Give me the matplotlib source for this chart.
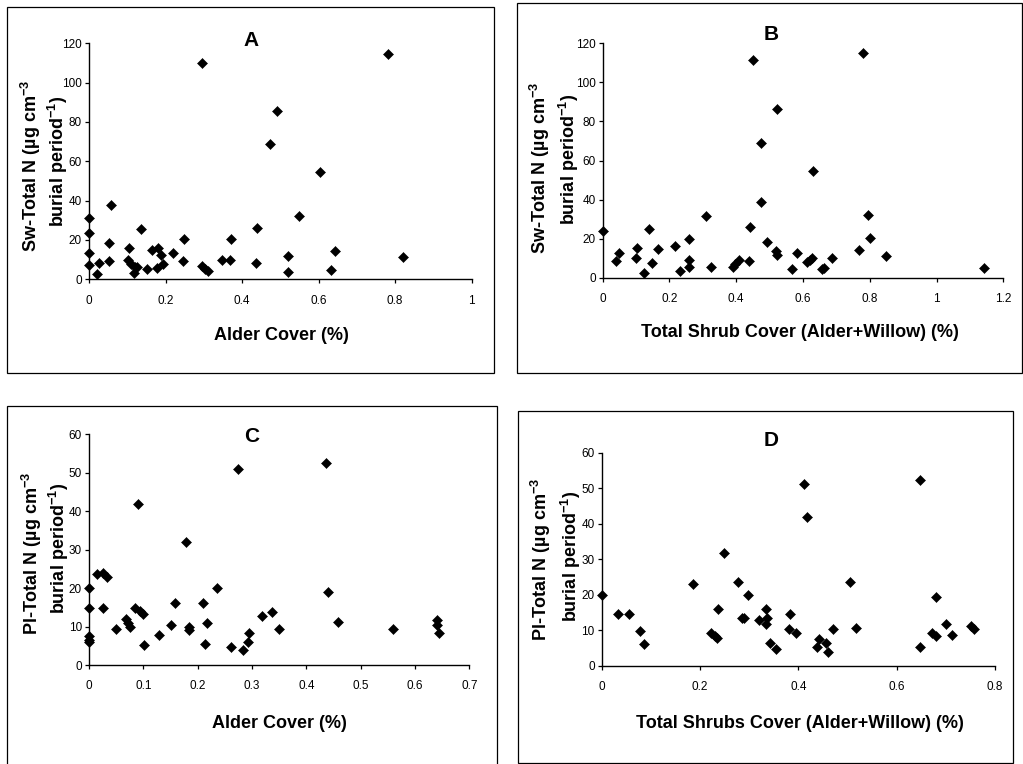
from matplotlib import pyplot as plt
from matplotlib.patches import Rectangle
import numpy as np

plt.rcParams['font.family'] = ['Liberation Sans', 'DejaVu Sans']
plt.rcParams['mathtext.fontset'] = 'custom'
plt.rcParams['mathtext.rm'] = 'Liberation Sans:bold'
plt.rcParams['mathtext.bf'] = 'Liberation Sans:bold'

W, H = 1023, 764

# Sw (white spruce) total N against alder cover
alder_a = [0, 0, 0, 0, 0.02, 0.026, 0.052, 0.052, 0.058, 0.105, 0.103, 0.111,
           0.12, 0.118, 0.126, 0.137, 0.151, 0.164, 0.179, 0.177, 0.188, 0.193,
           0.219, 0.248, 0.246, 0.296, 0.294, 0.303, 0.312, 0.347, 0.368, 0.371,
           0.436, 0.44, 0.473, 0.492, 0.521, 0.521, 0.549, 0.604, 0.632, 0.643,
           0.78, 0.82]
sw_n_a = [31.4, 23.4, 13.2, 7.1, 2.7, 8.3, 18.4, 9.2, 38.0, 15.8, 10.0, 7.8,
          6.4, 3.4, 6.0, 25.5, 5.1, 15.1, 15.9, 5.7, 12.4, 7.8,
          13.2, 20.3, 9.2, 110.2, 6.8, 5.1, 4.3, 9.8, 9.8, 20.3,
          8.5, 26.1, 68.6, 85.8, 11.9, 3.9, 32.1, 54.5, 4.7, 14.6,
          114.6, 11.5]

# Sw total N against total shrub cover
shrub_b = [0, 0.039, 0.05, 0.1, 0.104, 0.123, 0.138, 0.147, 0.165, 0.216,
           0.232, 0.258, 0.26, 0.26, 0.309, 0.325, 0.389, 0.397, 0.407, 0.439,
           0.441, 0.451, 0.473, 0.473, 0.493, 0.518, 0.521, 0.523, 0.567, 0.583,
           0.613, 0.62, 0.627, 0.629, 0.657, 0.664, 0.686, 0.767, 0.779, 0.794,
           0.8, 0.848, 1.141]
sw_n_b = [23.7, 8.4, 12.5, 10.1, 15.1, 2.6, 25.1, 7.3, 14.6, 16.0,
          3.2, 9.0, 5.6, 20.0, 31.8, 5.3, 5.7, 6.9, 9.0, 8.4,
          25.9, 111.3, 68.8, 38.6, 18.1, 13.7, 11.5, 86.2, 4.3, 12.9,
          8.0, 9.2, 10.3, 54.8, 4.3, 5.1, 10.3, 14.3, 114.9, 32.0,
          20.1, 11.1, 5.2]

# Pl (lodgepole pine) total N against alder cover
alder_c = [0, 0, 0, 0, 0, 0.015, 0.025, 0.033, 0.026, 0.05, 0.069, 0.072,
           0.076, 0.085, 0.09, 0.093, 0.099, 0.101, 0.128, 0.151, 0.158, 0.178,
           0.184, 0.184, 0.21, 0.213, 0.217, 0.235, 0.262, 0.274, 0.284, 0.292,
           0.295, 0.319, 0.336, 0.35, 0.436, 0.44, 0.458, 0.559, 0.64, 0.64,
           0.645]
pl_n_c = [20.0, 14.7, 7.5, 6.6, 5.9, 23.7, 23.8, 22.9, 14.7, 9.3, 12.0, 10.9,
          10.0, 14.8, 41.8, 14.0, 13.2, 5.3, 7.8, 10.4, 16.1, 31.9,
          10.0, 9.2, 16.1, 5.4, 10.8, 20.0, 4.7, 51.0, 3.9, 6.1,
          8.3, 12.8, 13.7, 9.3, 52.5, 19.1, 11.1, 9.3, 11.6, 10.5,
          8.3]

# Pl total N against total shrub cover
shrub_d = [0, 0.033, 0.056, 0.077, 0.087, 0.185, 0.223, 0.23, 0.235, 0.236,
           0.249, 0.277, 0.285, 0.29, 0.297, 0.32, 0.334, 0.336, 0.334, 0.342,
           0.354, 0.382, 0.38, 0.395, 0.411, 0.417, 0.438, 0.441, 0.456, 0.461,
           0.47, 0.505, 0.517, 0.648, 0.648, 0.671, 0.68, 0.68, 0.7, 0.713,
           0.752, 0.758]
pl_n_d = [20.1, 14.6, 14.6, 9.9, 6.1, 23.1, 9.3, 8.4, 8.0, 16.1,
          31.9, 23.5, 13.4, 13.4, 20.1, 12.9, 16.1, 13.5, 11.8, 6.6,
          4.7, 14.6, 10.3, 9.3, 51.1, 41.8, 5.4, 7.5, 6.4, 3.9,
          10.4, 23.5, 10.8, 52.3, 5.4, 9.3, 8.3, 19.3, 11.7, 8.6,
          11.3, 10.4]

panels = [
    dict(letter='A', x=alder_a, y=sw_n_a, sp='Sw',
         xlabel='Alder Cover (%)',
         xticks=[0, 0.2, 0.4, 0.6, 0.8, 1], xlabels=['0', '0.2', '0.4', '0.6', '0.8', '1'],
         yticks=[0, 20, 40, 60, 80, 100, 120],
         frame=(7, 7, 494, 373), axbox=(89, 43.3, 471.7, 279.3),
         letter_xy=(251, 40), xlabel_xy=(281, 335),
         yl1=(31, 166), yl2=(58, 161)),
    dict(letter='B', x=shrub_b, y=sw_n_b, sp='Sw',
         xlabel='Total Shrub Cover (Alder+Willow) (%)',
         xticks=[0, 0.2, 0.4, 0.6, 0.8, 1, 1.2],
         xlabels=['0', '0.2', '0.4', '0.6', '0.8', '1', '1.2'],
         yticks=[0, 20, 40, 60, 80, 100, 120],
         frame=(517, 3, 1022, 373), axbox=(602.7, 43.3, 1003.3, 277.7),
         letter_xy=(771, 34), xlabel_xy=(800, 332),
         yl1=(540, 168), yl2=(569, 159)),
    dict(letter='C', x=alder_c, y=pl_n_c, sp='Pl',
         xlabel='Alder Cover (%)',
         xticks=[0, 0.1, 0.2, 0.3, 0.4, 0.5, 0.6, 0.7],
         xlabels=['0', '0.1', '0.2', '0.3', '0.4', '0.5', '0.6', '0.7'],
         yticks=[0, 10, 20, 30, 40, 50, 60],
         frame=(7, 406, 497, 770), axbox=(89, 434.3, 469.3, 665),
         letter_xy=(252, 437), xlabel_xy=(279, 723),
         yl1=(32, 553), yl2=(59, 548)),
    dict(letter='D', x=shrub_d, y=pl_n_d, sp='Pl',
         xlabel='Total Shrubs Cover (Alder+Willow) (%)',
         xticks=[0, 0.2, 0.4, 0.6, 0.8], xlabels=['0', '0.2', '0.4', '0.6', '0.8'],
         yticks=[0, 10, 20, 30, 40, 50, 60],
         frame=(518, 411, 1013, 763), axbox=(601.7, 452.7, 995, 666),
         letter_xy=(771, 441), xlabel_xy=(800, 723),
         yl1=(541, 559), yl2=(571, 556)),
]


def fx(px):
    return px / W


def fy(py):
    return 1 - py / H


fig = plt.figure(figsize=(W / 100, H / 100), dpi=100)

for p in panels:
    # chart border
    x0, y0, x1, y1 = p['frame']
    fig.patches.append(Rectangle((fx(x0), fy(y1)), fx(x1 - x0), (y1 - y0) / H,
                                 transform=fig.transFigure, fill=False,
                                 edgecolor='black', linewidth=0.9))

    l, t, r, b = p['axbox']
    ax = fig.add_axes([fx(l), fy(b), fx(r - l), (b - t) / H])
    ax.plot(p['x'], p['y'], linestyle='none', marker='D', markersize=5.2,
            color='black', markeredgewidth=0.4, clip_on=False, zorder=3)

    ax.set_xlim(p['xticks'][0], p['xticks'][-1])
    ax.set_ylim(p['yticks'][0], p['yticks'][-1])
    ax.set_xticks(p['xticks'])
    ax.set_xticklabels(p['xlabels'])
    ax.set_yticks(p['yticks'])
    for side in ['top', 'right']:
        ax.spines[side].set_visible(False)
    for side in ['left', 'bottom']:
        ax.spines[side].set_linewidth(1.0)
    ax.tick_params(axis='x', direction='out', length=3, width=0.9, pad=8, labelsize=8.5)
    ax.tick_params(axis='y', direction='out', length=3, width=0.9, pad=2, labelsize=8.5)
    ax.patch.set_alpha(0)

    fig.text(fx(p['letter_xy'][0]), fy(p['letter_xy'][1]), p['letter'],
             fontsize=15, fontweight='bold', ha='center', va='center')
    fig.text(fx(p['xlabel_xy'][0]), fy(p['xlabel_xy'][1]), p['xlabel'],
             fontsize=13, fontweight='bold', ha='center', va='center')
    fig.text(fx(p['yl1'][0]), fy(p['yl1'][1]),
             p['sp'] + r'-Total N (µg cm$^{-3}$',
             fontsize=13, fontweight='bold', rotation=90, ha='center', va='center')
    fig.text(fx(p['yl2'][0]), fy(p['yl2'][1]), r'burial period$^{-1}$)',
             fontsize=13, fontweight='bold', rotation=90, ha='center', va='center')

fig.savefig('out.png', dpi=100)
